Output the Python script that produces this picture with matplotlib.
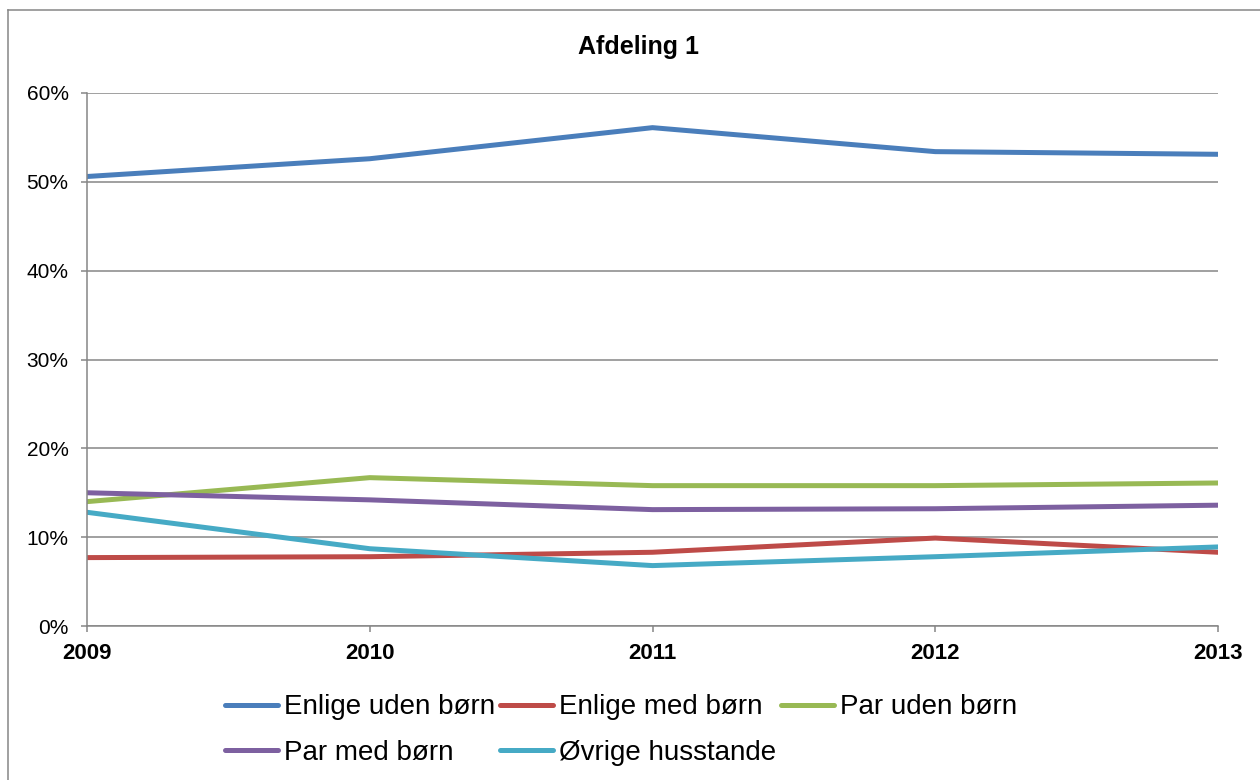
import numpy as np
import matplotlib.pyplot as plt
from matplotlib.lines import Line2D

plt.rcParams['font.family'] = ['Liberation Sans', 'DejaVu Sans']

# data (share of households, %)
years = ['2009', '2010', '2011', '2012', '2013']
enlige_uden = [50.6, 52.6, 56.1, 53.4, 53.1]
enlige_med = [7.7, 7.8, 8.3, 9.9, 8.3]
par_uden = [14.0, 16.7, 15.8, 15.8, 16.1]
par_med = [15.0, 14.2, 13.1, 13.2, 13.6]
ovrige = [12.8, 8.7, 6.8, 7.8, 8.9]

labels = ['Enlige uden børn', 'Enlige med børn', 'Par uden børn',
          'Par med børn', 'Øvrige husstande']
colors = ['#4A7EBB', '#BE4B48', '#98B954', '#7D60A0', '#46AAC5']
series = [enlige_uden, enlige_med, par_uden, par_med, ovrige]

grey = '#868686'

fig = plt.figure(figsize=(12.6, 7.8), dpi=100)
ax = fig.add_axes([87/1260, 1 - 626/780, (1218 - 87)/1260, (626 - 93)/780])

x = np.arange(len(years))
handles = []
for vals, lab, col in zip(series, labels, colors):
    h, = ax.plot(x, vals, color=col, lw=3.6, label=lab, solid_capstyle='round')
    handles.append(h)

ax.set_xlim(0, len(years) - 1)
ax.set_ylim(0, 60)
ax.set_yticks(range(0, 61, 10))
ax.set_yticklabels([f'{v}%' for v in range(0, 61, 10)])
ax.set_xticks(x)
ax.set_xticklabels(years, fontweight='bold')
ax.tick_params(axis='y', labelsize=15, length=4.3, width=1.1, color=grey, pad=9)
ax.tick_params(axis='x', labelsize=16, length=4.3, width=1.1, color=grey, pad=8)
ax.yaxis.grid(True, color=grey, lw=1.1)
ax.set_axisbelow(True)
for s in ['top', 'right']:
    ax.spines[s].set_visible(False)
for s in ['left', 'bottom']:
    ax.spines[s].set_color(grey)
    ax.spines[s].set_linewidth(1.1)

fig.text(0.507, 1 - 47/780, 'Afdeling 1', ha='center', va='center',
         fontsize=18, fontweight='bold')

# legend fills column by column, so reorder to get row-wise layout
order = [0, 3, 1, 4, 2]
fig.legend([handles[i] for i in order], [labels[i] for i in order],
           loc='center', bbox_to_anchor=(0.493, 1 - 730/780), ncol=3,
           frameon=False, fontsize=20, handlelength=1.9, handletextpad=0.2,
           columnspacing=0.2, labelspacing=0.7)

# chart border
fig.add_artist(Line2D([8/1260, 1], [1 - 10/780, 1 - 10/780], color=grey, lw=1.1))
fig.add_artist(Line2D([8/1260, 8/1260], [0, 1 - 10/780], color=grey, lw=1.1))

fig.savefig('out.png', dpi=100)
